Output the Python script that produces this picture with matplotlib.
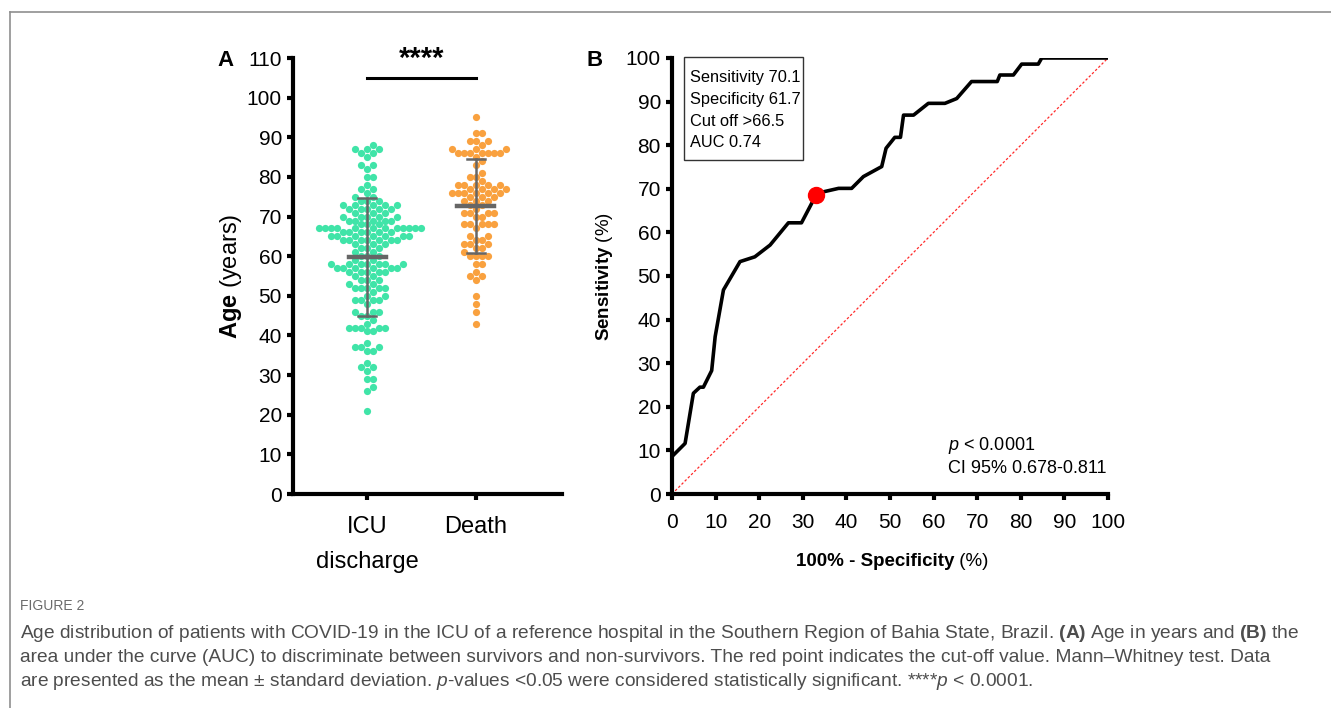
import numpy as np
import matplotlib
matplotlib.use('Agg')
import matplotlib.pyplot as plt
from matplotlib import font_manager
from matplotlib.lines import Line2D
from matplotlib.patches import Rectangle

# ---- data ----
groups = ['ICU\ndischarge', 'Death']

icu_ages = [88, 87, 86, 85, 83, 82, 80, 78, 77, 76, 75, 74, 73, 72, 71, 70, 69, 68, 67, 66,
            65, 64, 63, 62, 61, 60, 59, 58, 57, 56, 55, 54, 53, 52, 51, 50, 49, 48, 46, 45,
            44, 43, 42, 41, 38, 37, 36, 33, 32, 31, 29, 27, 26, 21]
icu_counts = [1, 3, 2, 1, 2, 1, 2, 1, 2, 1, 2, 3, 5, 5, 3, 5, 5, 3, 12, 6,
              7, 7, 3, 3, 2, 3, 2, 7, 6, 5, 2, 3, 2, 5, 1, 2, 4, 1, 3, 2,
              1, 1, 5, 2, 1, 3, 2, 1, 2, 1, 2, 1, 1, 1]

death_ages = [95, 91, 89, 88, 87, 86, 85, 84, 83, 81, 80, 79, 78, 77, 76, 75, 74, 73, 72, 71,
              70, 68, 67, 65, 64, 63, 62, 61, 60, 58, 56, 55, 54, 50, 48, 46, 43]
death_counts = [1, 2, 3, 1, 3, 7, 1, 1, 1, 1, 2, 1, 5, 4, 6, 3, 3, 2, 1, 4,
                2, 5, 1, 2, 2, 3, 2, 1, 4, 2, 1, 2, 1, 1, 1, 1, 1]

group_means = [59.8, 72.6]
group_sds = [14.9, 11.8]

roc_fpr = [0, 0, 3.0, 4.9, 6.4, 7.2, 9.1, 9.9, 11.8, 15.6, 19.0, 22.5, 26.7, 29.7, 33.0,
           34.7, 38.2, 41.2, 43.9, 48.1, 49.1, 51.1, 52.4, 53.1, 55.4, 58.8, 62.6, 65.3,
           68.7, 74.6, 75.2, 78.3, 80.2, 84.0, 84.8, 100]
roc_tpr = [0, 8.6, 11.6, 23.1, 24.5, 24.5, 28.3, 36.1, 46.8, 53.3, 54.4, 57.1, 62.2, 62.2, 68.5,
           69.3, 70.1, 70.1, 72.8, 75.1, 79.3, 81.8, 81.8, 86.9, 86.9, 89.6, 89.6, 90.7,
           94.6, 94.6, 96.1, 96.1, 98.6, 98.6, 100, 100]
cutoff_point = (33.0, 68.5)

roc_stats = ['Sensitivity 70.1', 'Specificity 61.7', 'Cut off >66.5', 'AUC 0.74']

# ---- fonts ----
names = {f.name for f in font_manager.fontManager.ttflist}
FONT = 'Liberation Sans Narrow' if 'Liberation Sans Narrow' in names else 'Liberation Sans'
plt.rcParams['font.family'] = [FONT, 'DejaVu Sans']
plt.rcParams['mathtext.fontset'] = 'custom'
plt.rcParams['mathtext.rm'] = FONT
plt.rcParams['mathtext.it'] = FONT + ':italic'
plt.rcParams['mathtext.bf'] = FONT + ':bold'

W, H = 1331, 708
fig = plt.figure(figsize=(W / 100, H / 100), dpi=100)
fig.patch.set_facecolor('white')

# frame lines of the figure page
fig.add_artist(Line2D([9.5 / W, 1], [1 - 11.5 / H, 1 - 11.5 / H], color='#8f8f8f', lw=1.2))
fig.add_artist(Line2D([9.5 / W, 9.5 / W], [0, 1 - 11.5 / H], color='#8f8f8f', lw=1.2))


def style_axis(ax):
    for s in ['top', 'right']:
        ax.spines[s].set_visible(False)
    for s in ['left', 'bottom']:
        ax.spines[s].set_linewidth(3)
    ax.tick_params(width=3, length=4.5, labelsize=15, direction='out')


def grid_swarm(values, slot_px, d_px, y_scale):
    """beeswarm on a horizontal grid of half-dot slots (prism-like look), pixels"""
    out = np.zeros(len(values))
    placed = []
    slots = [0]
    for j in range(1, 40):
        slots += [j, -j]
    for i in np.argsort(values):
        y = values[i] * y_scale
        near = [(px, py) for px, py in placed if abs(py - y) < d_px]
        for j in slots:
            c = j * slot_px
            if all((c - px) ** 2 + (y - py) ** 2 >= d_px ** 2 - 1e-6 for px, py in near):
                break
        placed.append((c, y))
        out[i] = c
    return out


# ---- panel A ----
axA = fig.add_axes([293 / W, 1 - 494 / H, (562 - 293) / W, 436 / H])
style_axis(axA)
axA.set_xlim(-0.68, 1.79)
axA.set_ylim(0, 110)
axA.set_yticks(np.arange(0, 111, 10))
axA.set_xticks([0, 1])
axA.set_xticklabels(groups, fontsize=17, linespacing=1.8)
axA.tick_params(axis='x', pad=11)
axA.set_ylabel(r'$\mathbf{Age}$ (years)', fontsize=17, labelpad=2)

bb = axA.get_window_extent()
x_scale = bb.width / (1.79 + 0.68)
y_scale = bb.height / 110
colors = ['#40E4A8', '#F9A13F']
for k, (ages, counts) in enumerate([(icu_ages, icu_counts), (death_ages, death_counts)]):
    vals = np.repeat(ages, counts).astype(float)
    offs = grid_swarm(vals, 3.0, 5.4, y_scale)
    axA.scatter(k + offs / x_scale, vals, s=27, color=colors[k], linewidths=0, zorder=2)
    m, sd = group_means[k], group_sds[k]
    axA.plot([k, k], [m - sd, m + sd], color='#666666', lw=1.8, zorder=3)
    for yv in (m - sd, m + sd):
        axA.plot([k - 0.085, k + 0.085], [yv, yv], color='#666666', lw=1.8, zorder=3)
    axA.plot([k - 0.17, k + 0.17], [m, m], color='#666666', lw=3.2, zorder=3)

axA.plot([0, 1], [105, 105], color='black', lw=2.2, clip_on=False)
axA.text(0.5, 106.3, '****', ha='center', va='bottom', fontsize=21, fontweight='bold')
fig.text(226 / W, 1 - 60 / H, 'A', fontsize=16, fontweight='bold', ha='center', va='center')

# ---- panel B ----
axB = fig.add_axes([672 / W, 1 - 494 / H, 436 / W, 436 / H])
style_axis(axB)
axB.set_xlim(0, 100)
axB.set_ylim(0, 100)
axB.set_xticks(np.arange(0, 101, 10))
axB.set_yticks(np.arange(0, 101, 10))
axB.tick_params(axis='x', pad=9)
axB.plot([0, 100], [0, 100], color='#ff2a2a', lw=0.9, linestyle=(0, (2, 1.6)), zorder=1)
axB.plot(roc_fpr, roc_tpr, color='black', lw=2.6, zorder=2, solid_joinstyle='round')
axB.plot(*cutoff_point, 'o', color='#ff0000', markersize=11.5, zorder=3)
axB.set_ylabel(r'$\mathbf{Sensitivity}$ (%)', fontsize=13.5, labelpad=8)
xl = axB.set_xlabel('100% - Specificity', fontsize=13.5, fontweight='bold', labelpad=20)
axB.xaxis.set_label_coords(0.5 - 15 / 436, -0.135)
axB.annotate(' (%)', xy=(1, 0.5), xycoords=xl, va='center', ha='left', fontsize=13.5)

# stats box
axB.add_patch(Rectangle((2.75, 76.6), 27.3, 23.6, facecolor='white', edgecolor='#333333',
                        lw=1, zorder=4, clip_on=False))
for i, line in enumerate(roc_stats):
    axB.text(4.1, 95.5 - 4.98 * i, line, fontsize=11.8, va='center', ha='left', zorder=5)
axB.text(63.3, 8.7, r'$\mathit{p}$ < 0.0001' + '\nCI 95% 0.678-0.811', fontsize=13,
         va='center', ha='left', linespacing=1.25)
fig.text(595 / W, 1 - 60 / H, 'B', fontsize=16, fontweight='bold', ha='center', va='center')

# ---- caption ----
fig.text(20 / W, 1 - 606 / H, 'FIGURE 2', fontsize=10, color='#6b6b6b', va='center')
cap_lines = [
    r'Age distribution of patients with COVID-19 in the ICU of a reference hospital in the '
    r'Southern Region of Bahia State, Brazil. $\mathbf{(A)}$ Age in years and $\mathbf{(B)}$ the',
    'area under the curve (AUC) to discriminate between survivors and non-survivors. The red '
    'point indicates the cut-off value. Mann\u2013Whitney test. Data',
    'are presented as the mean \u00b1 standard deviation. $\\mathit{p}$-values <0.05 were '
    'considered statistically significant. ****$\\mathit{p}$ < 0.0001.',
]
renderer = fig.canvas.get_renderer()
probe = fig.text(0, 0, cap_lines[0], fontsize=12)
w0 = probe.get_window_extent(renderer).width
probe.remove()
cap_size = 12 * 1275 / w0
for i, line in enumerate(cap_lines):
    fig.text(20 / W, 1 - (633 + 24 * i) / H, line, fontsize=cap_size, color='#4d4d4d', va='center')

fig.savefig('out.png', dpi=100, facecolor='white')
